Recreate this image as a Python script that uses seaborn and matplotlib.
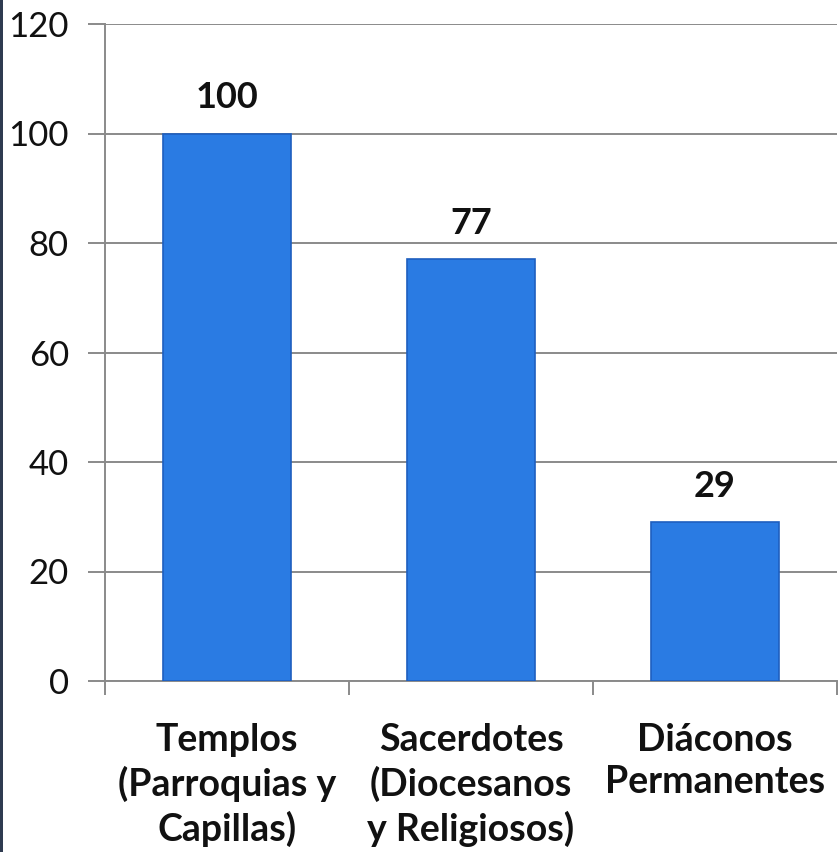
import matplotlib
matplotlib.use("Agg")
import matplotlib.pyplot as plt
import seaborn as sns
import pandas as pd
from matplotlib.patches import Rectangle
from matplotlib.ticker import FixedLocator

categories = ["Templos\n(Parroquias y\nCapillas)", "Sacerdotes\n(Diocesanos\ny Religiosos)", "Diáconos\nPermanentes"]
values = [100, 77, 29]
yticks = [0, 20, 40, 60, 80, 100, 120]

sns.set_theme(style="white")
plt.rcParams['font.family'] = ['Lato', 'DejaVu Sans']

fig = plt.figure(figsize=(8.39, 8.52), dpi=100)
ax = fig.add_axes([105/839, (852-681)/852, (837-105)/839, (681-24)/852])

df = pd.DataFrame({"cat": categories, "val": values})
sns.barplot(data=df, x="cat", y="val", ax=ax, color="#2a7be3", saturation=1,
            width=0.525, edgecolor="#1e5fbf", linewidth=1.2, zorder=3)

ax.set_ylim(0, 120)
ax.set_xlim(-0.5, 2.5)
ax.set_yticks(yticks)
ax.set_yticklabels([str(t) for t in yticks], fontsize=25, color="#111111", fontweight="normal")
ax.yaxis.grid(True, color="#8a8a8a", linewidth=1.4, zorder=0)
ax.set_axisbelow(True)
ax.set_xlabel("")
ax.set_ylabel("")
ax.tick_params(axis="y", length=12, width=1.4, color="#8a8a8a", direction="out", pad=14, left=True)
ax.tick_params(axis="x", which="major", length=0, pad=30)
ax.xaxis.set_minor_locator(FixedLocator([-0.5, 0.5, 1.5, 2.5]))
ax.tick_params(axis="x", which="minor", length=10, width=1.4, color="#8a8a8a", direction="out", bottom=True)
for lbl in ax.get_xticklabels():
    lbl.set_fontsize(27)
    lbl.set_fontweight("bold")
    lbl.set_color("#111111")
    lbl.set_linespacing(1.3)

for side in ["top", "right"]:
    ax.spines[side].set_visible(False)
for side in ["left", "bottom"]:
    ax.spines[side].set_color("#8a8a8a")
    ax.spines[side].set_linewidth(1.4)

for i, v in enumerate(values):
    ax.annotate(str(v), (i, v), xytext=(0, 14), textcoords="offset points",
                ha="center", va="bottom", fontsize=26, fontweight="bold", color="#111111")

fig.add_artist(Rectangle((0, 0), 3/839, 1, transform=fig.transFigure,
                         facecolor="#2f3b50", edgecolor="none"))

fig.savefig("out.png", dpi=100)
